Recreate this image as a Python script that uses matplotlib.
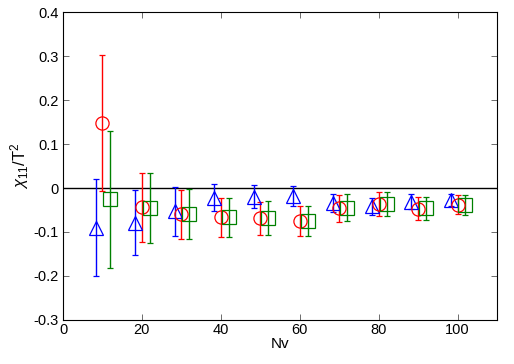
import numpy as np
import matplotlib
matplotlib.use("Agg")
import matplotlib.pyplot as plt
from matplotlib.ticker import FuncFormatter

plt.rcParams['font.family'] = ['Liberation Sans', 'DejaVu Sans']
plt.rcParams['axes.unicode_minus'] = False
plt.rcParams['mathtext.fontset'] = 'custom'
plt.rcParams['mathtext.rm'] = 'Liberation Sans'
plt.rcParams['mathtext.it'] = 'Liberation Sans:italic'

# triangles (blue)
nv_blue = [8.3, 18.3, 28.3, 38.3, 48.3, 58.3, 68.3, 78.3, 88.3, 98.3]
val_blue = [-0.090, -0.079, -0.053, -0.022, -0.020, -0.019, -0.034, -0.042, -0.031, -0.027]
err_blue = [0.111, 0.074, 0.055, 0.031, 0.026, 0.023, 0.021, 0.020, 0.017, 0.014]

# circles (red)
nv_red = [10, 20, 30, 40, 50, 60, 70, 80, 90, 100]
val_red = [0.148, -0.044, -0.060, -0.067, -0.069, -0.076, -0.046, -0.036, -0.047, -0.038]
err_red = [0.155, 0.079, 0.056, 0.044, 0.038, 0.034, 0.031, 0.028, 0.026, 0.022]

# squares (green)
nv_green = [12, 22, 32, 42, 52, 62, 72, 82, 92, 102]
val_green = [-0.026, -0.045, -0.059, -0.067, -0.068, -0.076, -0.045, -0.036, -0.046, -0.039]
err_green = [0.155, 0.079, 0.056, 0.044, 0.038, 0.034, 0.031, 0.028, 0.026, 0.022]

fig = plt.figure(figsize=(5.14, 3.64), dpi=100)
ax = fig.add_axes([0.1226, 0.1209, 0.8444, 0.8461])

ax.axhline(0, color='black', lw=1)

series = [
    (nv_blue, val_blue, err_blue, '^', '#0000ff'),
    (nv_red, val_red, err_red, 'o', '#ff0000'),
    (nv_green, val_green, err_green, 's', '#008000'),
]
for x, y, e, m, c in series:
    ax.errorbar(x, y, yerr=e, fmt=m, color=c, mfc='none', mec=c, ms=9.5,
                mew=0.9, elinewidth=1, capsize=2, capthick=1)

ax.set_xlim(0, 110)
ax.set_ylim(-0.3, 0.4)
ax.set_xticks([0, 20, 40, 60, 80, 100])
ax.set_yticks([-0.3, -0.2, -0.1, 0, 0.1, 0.2, 0.3, 0.4])
ax.yaxis.set_major_formatter(FuncFormatter(lambda v, p: '%g' % round(v, 2)))
ax.tick_params(direction='in', top=True, right=True, length=4, width=0.6,
               labelsize=10.5, color='#555555')
ax.tick_params(axis='x', pad=2)
ax.tick_params(axis='y', pad=3)
for s in ax.spines.values():
    s.set_linewidth(0.8)

ax.set_xlabel('Nv', fontsize=11, labelpad=0)
ax.set_ylabel(r'$\chi_{11}/\mathrm{T}^2$', fontsize=12, labelpad=2)

fig.savefig('out.png', dpi=100)
